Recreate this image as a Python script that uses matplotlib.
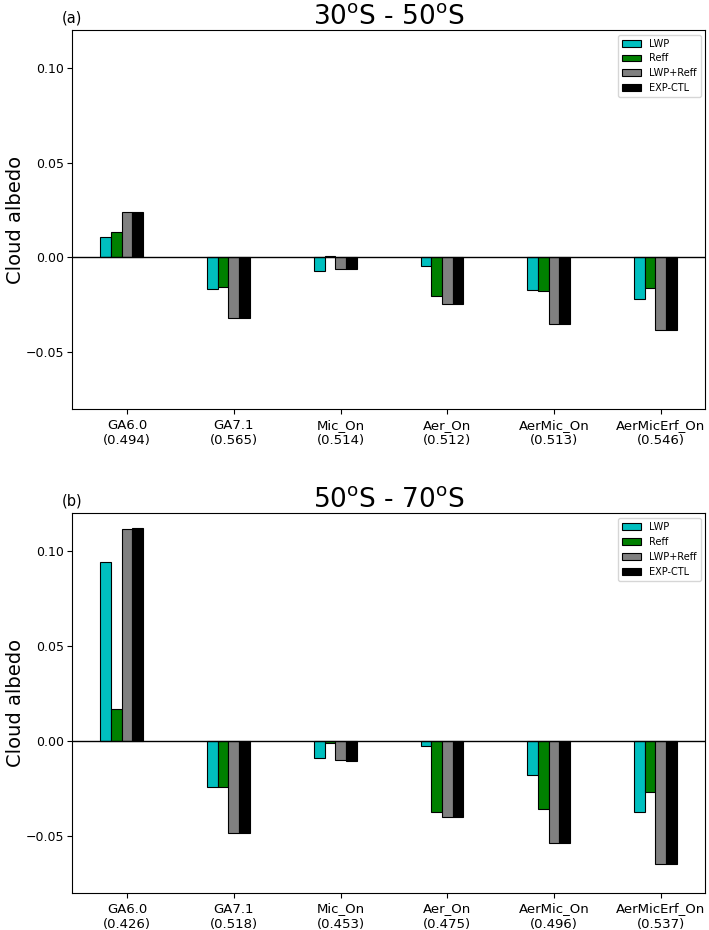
import matplotlib
matplotlib.use("Agg")
from matplotlib import pyplot as plt
import numpy as np

experiments = ['GA6.0', 'GA7.1', 'Mic_On', 'Aer_On', 'AerMic_On', 'AerMicErf_On']
series_names = ['LWP', 'Reff', 'LWP+Reff', 'EXP-CTL']
colors = ['c', 'g', 'grey', 'k']

# 30S - 50S
albedo_a = ['0.494', '0.565', '0.514', '0.512', '0.513', '0.546']
lwp_a = [0.0106, -0.0166, -0.0072, -0.0044, -0.0171, -0.0219]
reff_a = [0.0133, -0.0157, 0.0010, -0.0205, -0.0178, -0.0162]
both_a = [0.0240, -0.0319, -0.0061, -0.0245, -0.0351, -0.0381]
ctl_a = [0.0240, -0.0319, -0.0062, -0.0245, -0.0351, -0.0381]

# 50S - 70S
albedo_b = ['0.426', '0.518', '0.453', '0.475', '0.496', '0.537']
lwp_b = [0.0946, -0.0242, -0.0088, -0.0025, -0.0181, -0.0374]
reff_b = [0.0171, -0.0242, -0.0012, -0.0372, -0.0358, -0.0271]
both_b = [0.1120, -0.0485, -0.0099, -0.0398, -0.0540, -0.0647]
ctl_b = [0.1122, -0.0485, -0.0104, -0.0398, -0.0540, -0.0647]

fig = plt.figure(figsize=(7.09, 9.30), dpi=100)
ax1 = fig.add_axes([0.101, 0.560, 0.894, 0.408])
ax2 = fig.add_axes([0.101, 0.040, 0.894, 0.408])


def panel(ax, data, albedo, title, tag):
    x = np.arange(len(experiments))
    w = 0.1
    for i, vals in enumerate(data):
        ax.bar(x + (i - 2) * w, vals, w, color=colors[i], edgecolor='k',
               linewidth=0.8, label=series_names[i])
    ax.axhline(0, color='k', linewidth=1)
    ax.set_ylim(-0.08, 0.12)
    ax.set_yticks([-0.05, 0.0, 0.05, 0.10])
    ax.set_xticks(x)
    ax.set_xticklabels([f'{e}\n({a})' for e, a in zip(experiments, albedo)],
                       fontsize=9.5)
    ax.tick_params(axis='y', labelsize=9, pad=2)
    ax.set_ylabel('Cloud albedo', fontsize=14)
    ax.yaxis.set_label_coords(-0.073, 0.5)
    ax.set_title(title, fontsize=19, pad=4)
    ax.text(0.0, 1.012, tag, transform=ax.transAxes, ha='center', va='bottom',
            fontsize=10.5)
    ax.legend(loc='upper right', fontsize=7)


panel(ax1, [lwp_a, reff_a, both_a, ctl_a], albedo_a,
      r'30$^{\mathrm{o}}$S - 50$^{\mathrm{o}}$S', '(a)')
panel(ax2, [lwp_b, reff_b, both_b, ctl_b], albedo_b,
      r'50$^{\mathrm{o}}$S - 70$^{\mathrm{o}}$S', '(b)')

plt.savefig('out.png', dpi=100)
